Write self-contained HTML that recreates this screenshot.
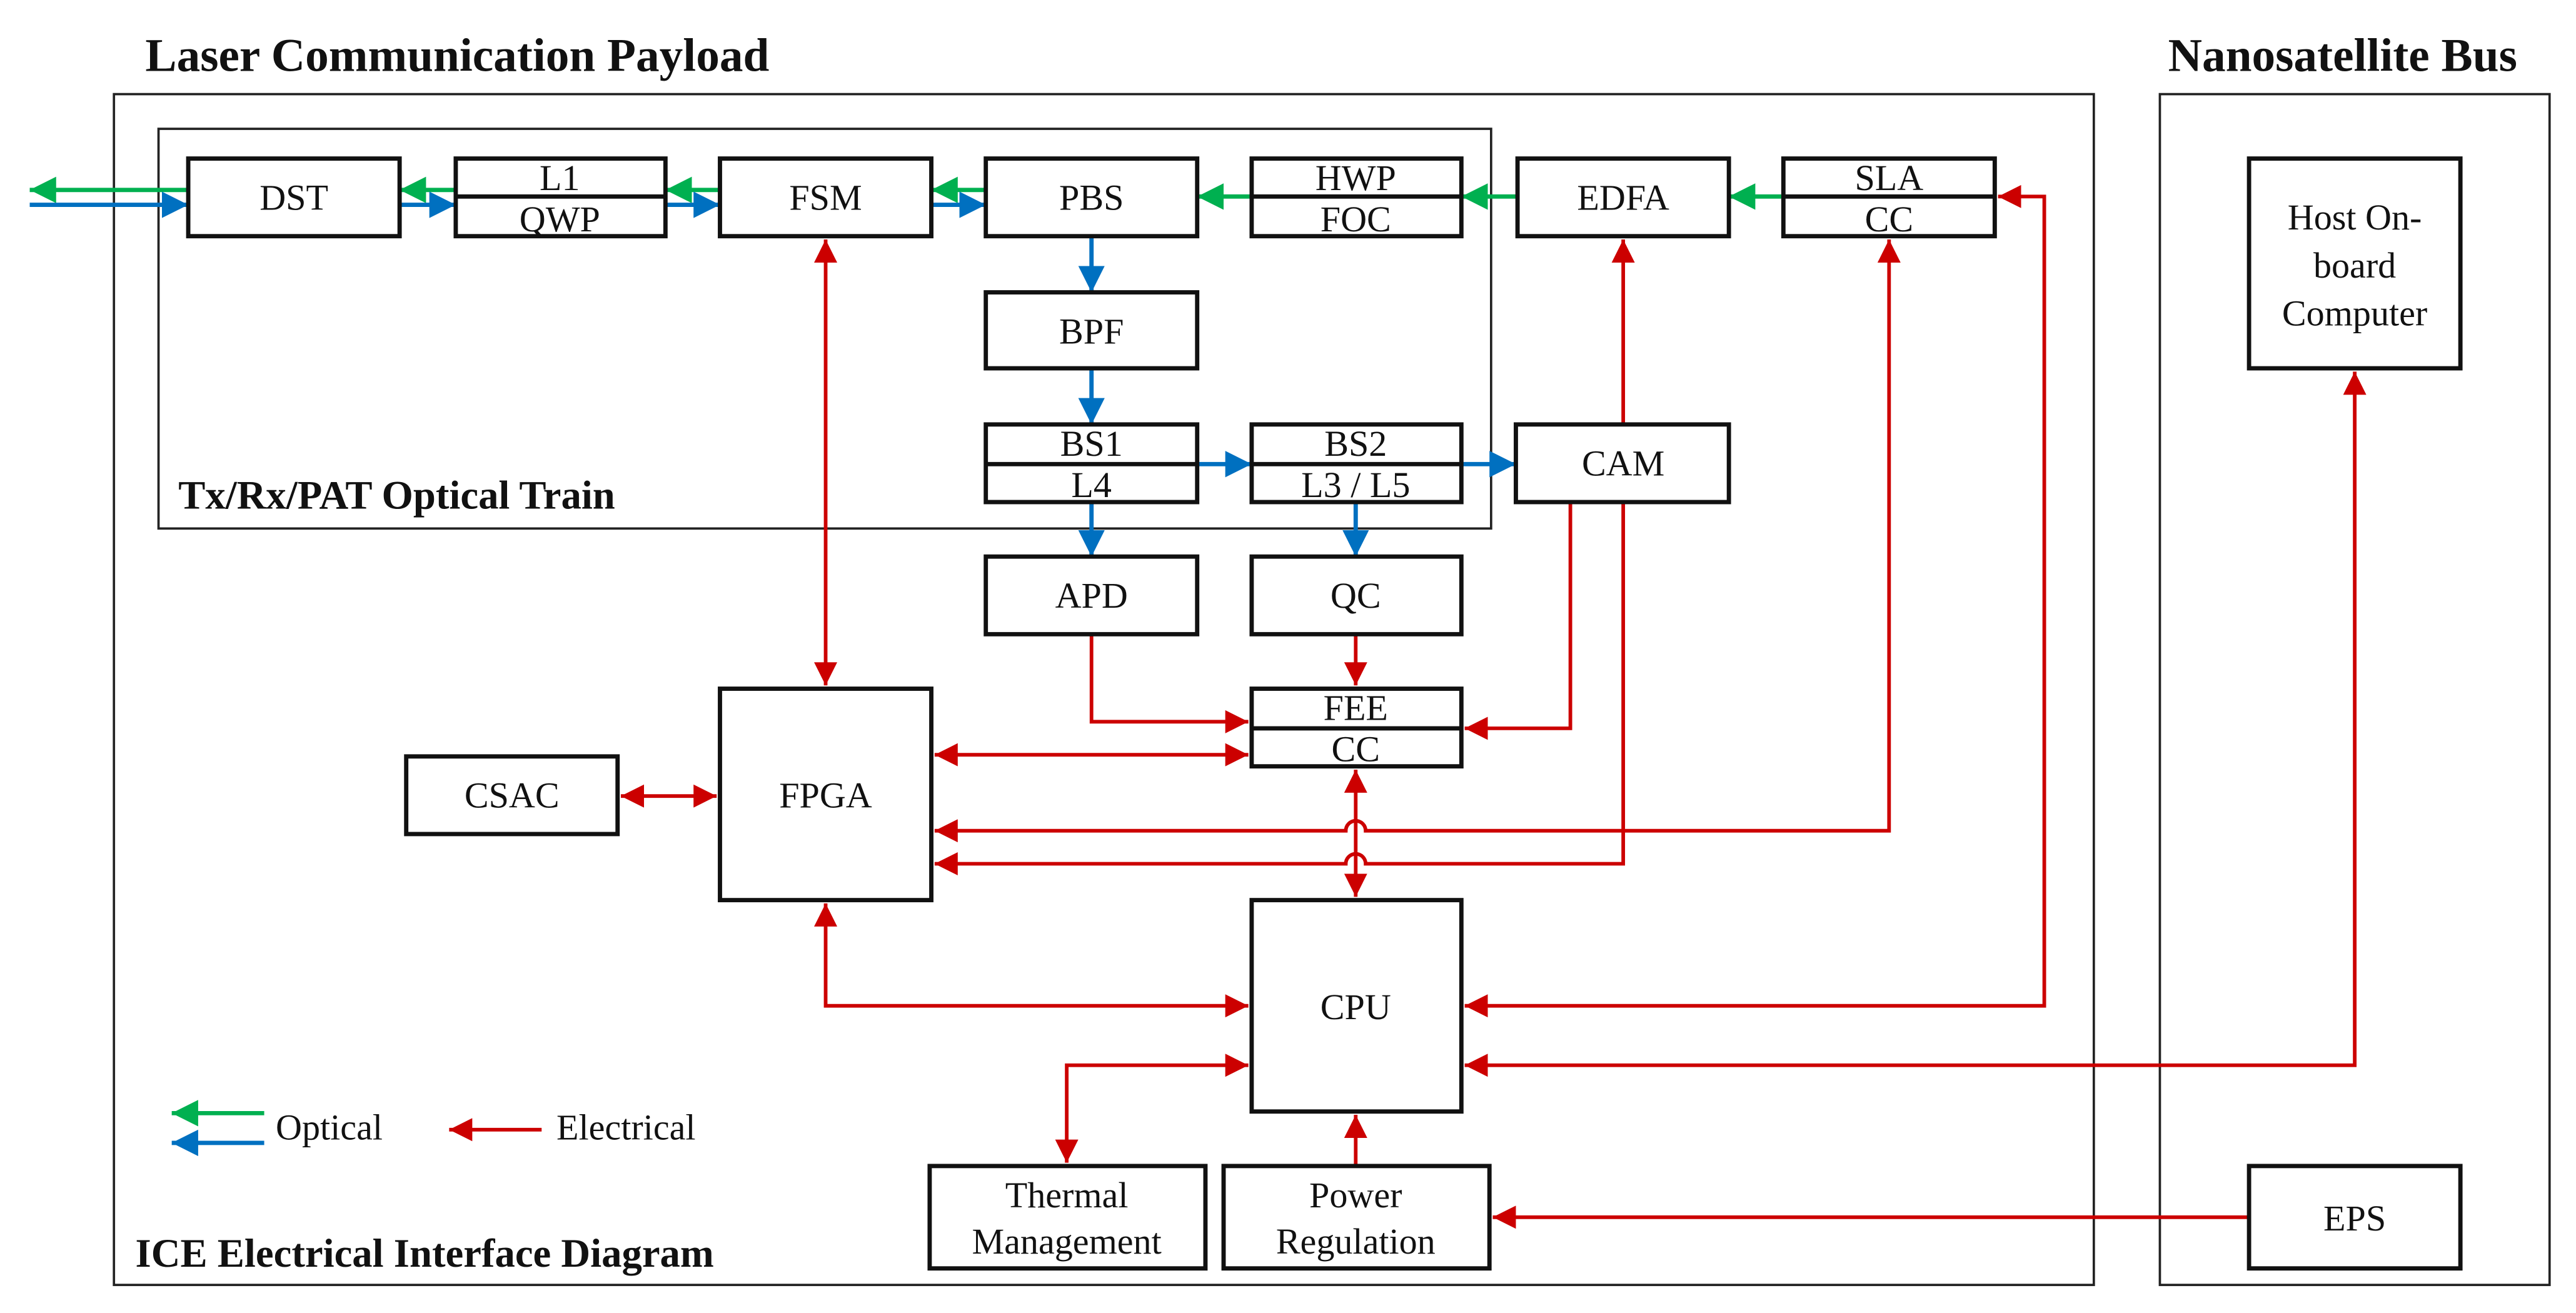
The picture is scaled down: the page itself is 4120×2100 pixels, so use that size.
<!DOCTYPE html>
<html><head><meta charset="utf-8"><style>
html,body{margin:0;padding:0;background:#fff;}
svg{display:block;}
text{font-family:"Liberation Serif","Times New Roman",serif;fill:#111;}
.b{fill:#fff;stroke:#111;stroke-width:2.6;}
.o{fill:none;stroke:#222;stroke-width:1.4;}
.t{font-size:22px;text-anchor:middle;}
.h{font-weight:bold;}
.r{fill:none;stroke:#cc0000;stroke-width:2.2;}
.g{fill:none;stroke:#00b050;stroke-width:2.6;}
.u{fill:none;stroke:#0070c0;stroke-width:2.6;}
</style></head><body>
<svg width="4120" height="2100" viewBox="0 0 1560 795" preserveAspectRatio="none" xmlns="http://www.w3.org/2000/svg">
<defs>
<marker id="mr" viewBox="0 0 14 14" refX="14" refY="7" markerWidth="14" markerHeight="14" markerUnits="userSpaceOnUse" orient="auto-start-reverse"><path d="M0,0 L14,7 L0,14 z" fill="#cc0000"/></marker>
<marker id="mg" viewBox="0 0 16 16" refX="16" refY="8" markerWidth="16" markerHeight="16" markerUnits="userSpaceOnUse" orient="auto-start-reverse"><path d="M0,0 L16,8 L0,16 z" fill="#00b050"/></marker>
<marker id="mb" viewBox="0 0 16 16" refX="16" refY="8" markerWidth="16" markerHeight="16" markerUnits="userSpaceOnUse" orient="auto-start-reverse"><path d="M0,0 L16,8 L0,16 z" fill="#0070c0"/></marker>
</defs>

<text x="88" y="43" class="h" font-size="28.5">Laser Communication Payload</text>
<text x="1313" y="43" class="h" font-size="28.5">Nanosatellite Bus</text>

<rect x="69" y="57" width="1199" height="721" class="o"/>
<rect x="1308" y="57" width="236" height="721" class="o"/>
<rect x="96" y="78" width="807" height="242" class="o"/>
<text x="108" y="308" class="h" font-size="24.5">Tx/Rx/PAT Optical Train</text>
<text x="82" y="767" class="h" font-size="24.5">ICE Electrical Interface Diagram</text>

<path class="r" d="M500,145 V415" marker-start="url(#mr)" marker-end="url(#mr)"/>
<path class="r" d="M983,257 V145" marker-end="url(#mr)"/>
<path class="r" d="M1144,145 V503 H827 A6,6 0 0 0 815,503 H566" marker-start="url(#mr)" marker-end="url(#mr)"/>
<path class="r" d="M983,304 V523 H827 A6,6 0 0 0 815,523 H566" marker-end="url(#mr)"/>
<path class="r" d="M951,304 V441 H887" marker-end="url(#mr)"/>
<path class="r" d="M1210,119 H1238 V609 H887" marker-start="url(#mr)" marker-end="url(#mr)"/>
<path class="r" d="M1426,225 V645 H887" marker-start="url(#mr)" marker-end="url(#mr)"/>
<path class="r" d="M1362,737 H904" marker-end="url(#mr)"/>
<path class="r" d="M661,384 V437 H756" marker-end="url(#mr)"/>
<path class="r" d="M821,384 V415" marker-end="url(#mr)"/>
<path class="r" d="M566,457 H756" marker-start="url(#mr)" marker-end="url(#mr)"/>
<path class="r" d="M376,482 H434" marker-start="url(#mr)" marker-end="url(#mr)"/>
<path class="r" d="M821,466 V543" marker-start="url(#mr)" marker-end="url(#mr)"/>
<path class="r" d="M500,547 V609 H756" marker-start="url(#mr)" marker-end="url(#mr)"/>
<path class="r" d="M646,704 V645 H756" marker-start="url(#mr)" marker-end="url(#mr)"/>
<path class="r" d="M821,706 V675" marker-end="url(#mr)"/>

<path class="g" d="M114,115 H18" marker-end="url(#mg)"/>
<path class="u" d="M18,124 H114" marker-end="url(#mb)"/>
<path class="g" d="M276,115 H242" marker-end="url(#mg)"/>
<path class="u" d="M242,124 H276" marker-end="url(#mb)"/>
<path class="g" d="M436,115 H403" marker-end="url(#mg)"/>
<path class="u" d="M403,124 H436" marker-end="url(#mb)"/>
<path class="g" d="M597,115 H564" marker-end="url(#mg)"/>
<path class="u" d="M564,124 H597" marker-end="url(#mb)"/>
<path class="g" d="M758,119 H725" marker-end="url(#mg)"/>
<path class="g" d="M919,119 H885" marker-end="url(#mg)"/>
<path class="g" d="M1080,119 H1047" marker-end="url(#mg)"/>
<path class="u" d="M661,143 V177" marker-end="url(#mb)"/>
<path class="u" d="M661,223 V257" marker-end="url(#mb)"/>
<path class="u" d="M725,281 H758" marker-end="url(#mb)"/>
<path class="u" d="M885,281 H918" marker-end="url(#mb)"/>
<path class="u" d="M661,304 V337" marker-end="url(#mb)"/>
<path class="u" d="M821,304 V337" marker-end="url(#mb)"/>

<rect x="114" y="96" width="128" height="47" class="b"/><text x="178" y="127" class="t">DST</text>
<rect x="276" y="96" width="127" height="47" class="b"/><line x1="276" y1="119" x2="403" y2="119" stroke="#111" stroke-width="2.6"/>
<text x="339" y="115" class="t">L1</text><text x="339" y="140" class="t">QWP</text>
<rect x="436" y="96" width="128" height="47" class="b"/><text x="500" y="127" class="t">FSM</text>
<rect x="597" y="96" width="128" height="47" class="b"/><text x="661" y="127" class="t">PBS</text>
<rect x="758" y="96" width="127" height="47" class="b"/><line x1="758" y1="119" x2="885" y2="119" stroke="#111" stroke-width="2.6"/>
<text x="821" y="115" class="t">HWP</text><text x="821" y="140" class="t">FOC</text>
<rect x="919" y="96" width="128" height="47" class="b"/><text x="983" y="127" class="t">EDFA</text>
<rect x="1080" y="96" width="128" height="47" class="b"/><line x1="1080" y1="119" x2="1208" y2="119" stroke="#111" stroke-width="2.6"/>
<text x="1144" y="115" class="t">SLA</text><text x="1144" y="140" class="t">CC</text>
<rect x="597" y="177" width="128" height="46" class="b"/><text x="661" y="208" class="t">BPF</text>
<rect x="597" y="257" width="128" height="47" class="b"/><line x1="597" y1="281" x2="725" y2="281" stroke="#111" stroke-width="2.6"/>
<text x="661" y="276" class="t">BS1</text><text x="661" y="301" class="t">L4</text>
<rect x="758" y="257" width="127" height="47" class="b"/><line x1="758" y1="281" x2="885" y2="281" stroke="#111" stroke-width="2.6"/>
<text x="821" y="276" class="t">BS2</text><text x="821" y="301" class="t">L3 / L5</text>
<rect x="918" y="257" width="129" height="47" class="b"/><text x="983" y="288" class="t">CAM</text>
<rect x="597" y="337" width="128" height="47" class="b"/><text x="661" y="368" class="t">APD</text>
<rect x="758" y="337" width="127" height="47" class="b"/><text x="821" y="368" class="t">QC</text>
<rect x="758" y="417" width="127" height="47" class="b"/><line x1="758" y1="441" x2="885" y2="441" stroke="#111" stroke-width="2.6"/>
<text x="821" y="436" class="t">FEE</text><text x="821" y="461" class="t">CC</text>
<rect x="246" y="458" width="128" height="47" class="b"/><text x="310" y="489" class="t">CSAC</text>
<rect x="436" y="417" width="128" height="128" class="b"/><text x="500" y="489" class="t">FPGA</text>
<rect x="758" y="545" width="127" height="128" class="b"/><text x="821" y="617" class="t">CPU</text>
<rect x="563" y="706" width="167" height="62" class="b"/><text x="646" y="731" class="t">Thermal</text><text x="646" y="759" class="t">Management</text>
<rect x="741" y="706" width="161" height="62" class="b"/><text x="821" y="731" class="t">Power</text><text x="821" y="759" class="t">Regulation</text>
<rect x="1362" y="96" width="128" height="127" class="b"/>
<text x="1426" y="139" class="t">Host On-</text><text x="1426" y="168" class="t">board</text><text x="1426" y="197" class="t">Computer</text>
<rect x="1362" y="706" width="128" height="62" class="b"/><text x="1426" y="745" class="t">EPS</text>

<path class="g" d="M160,674 H104" marker-end="url(#mg)"/>
<path class="u" d="M160,692 H104" marker-end="url(#mb)"/>
<text x="167" y="690" font-size="22">Optical</text>
<path class="r" d="M328,684 H272" marker-end="url(#mr)"/>
<text x="337" y="690" font-size="22">Electrical</text>
</svg>
</body></html>
